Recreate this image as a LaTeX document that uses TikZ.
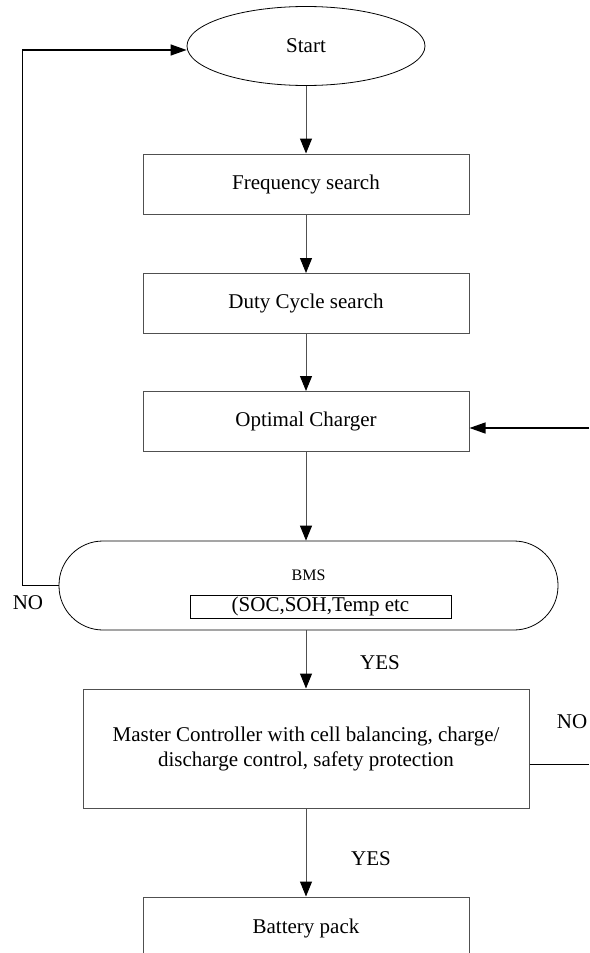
\documentclass[tikz,border=0pt]{standalone}
\usepackage{fontspec}
\setmainfont{Liberation Serif}
\usetikzlibrary{positioning,arrows.meta,shapes.geometric}
\tikzstyle{chart} = [x = 1pt, y = -1pt]
\definecolor{lineColor}{RGB}{80,80,80}
\tikzstyle{flowText} = [font=\fontsize{21}{25}\selectfont]
\tikzstyle{stepBox} = [draw=lineColor, line width=1pt, rectangle, minimum width=326pt, minimum height=60pt, inner sep=0pt, flowText]
\tikzstyle{startShape} = [draw=black, line width=0.8pt, ellipse, minimum width=238pt, minimum height=79pt, inner sep=0pt, flowText]
\tikzstyle{bmsShape} = [draw=black, line width=0.8pt, rectangle, rounded corners=44pt, minimum width=499pt, minimum height=89pt, inner sep=0pt]
\tikzstyle{flowArrow} = [color=lineColor, line width=1pt, -{Triangle[length=15pt, width=12pt, color=black]}]
\tikzstyle{loopArrow} = [color=black, line width=1.3pt, -{Triangle[length=16pt, width=11pt]}]
\tikzstyle{flowLine} = [color=black, line width=1pt]
\tikzstyle{flowLabel} = [flowText, inner sep=0pt]

\begin{document}
\begin{tikzpicture}[chart]
  \useasboundingbox (0,0) rectangle (589,953);
  \node [startShape] (start) at (306,46) {Start};
  \node [stepBox] (freq) at (306,184) {Frequency search};
  \node [stepBox] (duty) at (306,303.5) {Duty Cycle search};
  \node [stepBox] (opt) at (306,421.5) {Optimal Charger};
  \node [bmsShape] (bms) at (308.5,585.5) {};
  \node [font=\fontsize{16}{18}\selectfont, inner sep=0pt] (bmsLabel) at (308.5,575) {BMS};
  \node [draw=black, line width=0.8pt, minimum width=261pt, minimum height=23pt, inner sep=0pt, flowText] (bmsInfo) at (320.5,606.5) {(SOC,SOH,Temp etc};
  \node [stepBox, minimum width=446pt, minimum height=119pt, align=center] (master) at (306,748.5) {Master Controller with cell balancing, charge/\\discharge control, safety protection};
  \node [stepBox, minimum height=62pt] (battery) at (306,928) {Battery pack};

  \node [flowLabel] (noLeft) at (28,603) {NO};
  \node [flowLabel] (yesTop) at (380,663) {YES};
  \node [flowLabel] (noRight) at (572,722) {NO};
  \node [flowLabel] (yesBottom) at (371,859) {YES};

  \coordinate (chargeIn) at (589,428);
  \coordinate (masterOut) at (589,764);

  \draw [flowArrow] (start.south) -- (freq.north);
  \draw [flowArrow] (freq.south) -- (duty.north);
  \draw [flowArrow] (duty.south) -- (opt.north);
  \draw [flowArrow] (opt.south) -- (opt.south |- bms.north);
  \draw [flowArrow] (bms.south -| master.north) -- (master.north);
  \draw [flowArrow] (master.south) -- (battery.north);
  \draw [loopArrow] (bms.west) -- ++(-36,0) |- ([yshift=-4pt]start.west);
  \draw [loopArrow] (chargeIn) -- (opt.east |- chargeIn);
  \draw [flowLine] (master.east |- masterOut) -- (masterOut);
\end{tikzpicture}
\end{document}
